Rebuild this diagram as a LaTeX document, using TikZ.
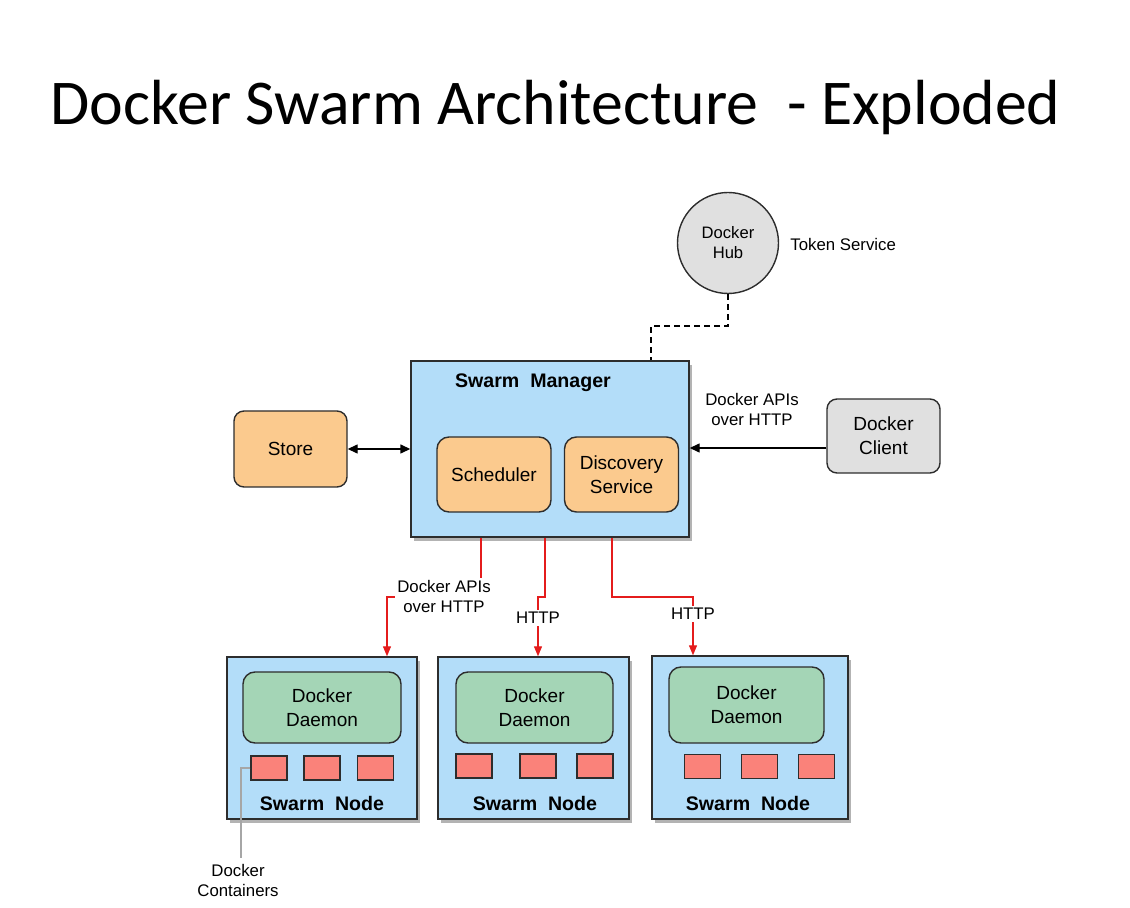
\documentclass[tikz,border=0pt]{standalone}
\usepackage{fontspec}
\setmainfont{Liberation Sans}
\newfontfamily\titlefont{Carlito}
\usetikzlibrary{arrows.meta,shadows}
\definecolor{mgrblue}{RGB}{179,221,249}
\definecolor{boxorange}{RGB}{251,202,142}
\definecolor{hubgray}{RGB}{224,224,224}
\definecolor{daemongreen}{RGB}{164,213,182}
\definecolor{boxred}{RGB}{250,130,122}
\definecolor{wirered}{RGB}{228,28,28}
\definecolor{edgegray}{RGB}{45,45,45}

\begin{document}
\begin{tikzpicture}[x=0.5pt,y=-0.5pt,
    box/.style={draw=edgegray,line width=0.7pt,inner sep=0pt,align=center,
                font=\fontsize{9.5}{12}\selectfont},
    shadowed/.style={drop shadow={shadow xshift=1.5pt,shadow yshift=-2pt,opacity=0.6}},
    small/.style={inner sep=1pt,align=center,font=\fontsize{8.4}{10}\selectfont},
    bold/.style={font=\bfseries\fontsize{9.8}{12}\selectfont},
    cont/.style={box,fill=boxred,minimum width=18pt,minimum height=12pt},
    wire/.style={wirered,line width=0.6pt,-{Triangle[length=5pt,width=4pt]}}]
    \useasboundingbox (0,0) rectangle (1130,908);

    \node[anchor=base west,inner sep=0pt,font=\titlefont\fontsize{31.9}{38}\selectfont]
        (title) at (50,125) {Docker Swarm Architecture\ \ - Exploded};

    % manager and its neighbours
    \node[box,circle,fill=hubgray,minimum size=50.5pt,font=\fontsize{8.3}{10}\selectfont]
        (hub) at (728,243) {Docker\\Hub};
    \node[small,anchor=west] (token) at (788,245) {Token Service};

    \node[box,shadowed,fill=mgrblue,minimum width=139pt,minimum height=88pt] (mgr) at (550,449) {};
    \node[bold] (mgrlabel) at (533,383) {Swarm\ \ Manager};
    \node[box,rounded corners=6pt,fill=boxorange,minimum width=57pt,minimum height=37.5pt]
        (sched) at (494,474.5) {Scheduler};
    \node[box,rounded corners=6pt,fill=boxorange,minimum width=57pt,minimum height=37.5pt]
        (disc) at (621.5,474.5) {Discovery\\Service};
    \node[box,rounded corners=5pt,fill=boxorange,minimum width=56.5pt,minimum height=38pt]
        (store) at (290.5,449) {Store};
    \node[box,rounded corners=5pt,fill=hubgray,minimum width=56.5pt,minimum height=37pt]
        (client) at (883.5,436) {Docker\\Client};
    \node[small] (apis) at (752,409) {Docker APIs\\over HTTP};

    \draw[line width=0.8pt,dash pattern=on 3pt off 2pt] (hub.south) |- (651,326) -- (651,0 |- mgr.north);
    \draw[line width=0.7pt,{Triangle[length=5pt,width=4.5pt]}-{Triangle[length=5pt,width=4.5pt]}]
        (store.east) -- (mgr.west);
    \draw[line width=0.7pt,-{Triangle[length=5pt,width=4.5pt]}] (client.west |- 0,448) -- (mgr.east |- 0,448);

    % swarm nodes
    \node[box,shadowed,fill=mgrblue,minimum width=95pt,minimum height=81pt] (node1) at (322,738) {};
    \node[box,shadowed,fill=mgrblue,minimum width=95.5pt,minimum height=81pt] (node2) at (533.5,738) {};
    \node[box,shadowed,fill=mgrblue,minimum width=98pt,minimum height=81.5pt] (node3) at (750,737.5) {};

    \node[box,rounded corners=6pt,fill=daemongreen,minimum width=79pt,minimum height=35.5pt]
        (daemon1) at (322,707.5) {Docker\\Daemon};
    \node[box,rounded corners=6pt,fill=daemongreen,minimum width=78.5pt,minimum height=35.5pt]
        (daemon2) at (534.5,707.5) {Docker\\Daemon};
    \node[box,rounded corners=6pt,fill=daemongreen,minimum width=77.5pt,minimum height=38pt]
        (daemon3) at (746.5,705) {Docker\\Daemon};

    \node[cont] (c11) at (269,768) {};
    \node[cont] (c12) at (322,768) {};
    \node[cont] (c13) at (375.5,768) {};
    \node[cont] (c21) at (474,766) {};
    \node[cont] (c22) at (538,766) {};
    \node[cont] (c23) at (595,766) {};
    \node[cont] (c31) at (702.5,766.5) {};
    \node[cont] (c32) at (759.5,766.5) {};
    \node[cont] (c33) at (816.5,766.5) {};

    \node[bold] (sn1) at (322,803) {Swarm\ \ Node};
    \node[bold] (sn2) at (535,803) {Swarm\ \ Node};
    \node[bold] (sn3) at (748,803) {Swarm\ \ Node};

    % red links down to the nodes
    \coordinate (m1) at (481,0 |- mgr.south);
    \coordinate (m2) at (545,0 |- mgr.south);
    \coordinate (m3) at (612,0 |- mgr.south);
    \draw[wire] (m1) |- (387,597) -- (387,0 |- node1.north);
    \draw[wire] (m2) |- (538,597) -- (538,0 |- node2.north);
    \draw[wire] (m3) |- (693,597) -- (693,0 |- node3.north);
    \node[small,fill=white] (api2) at (444,596) {Docker APIs\\over HTTP};
    \node[small,fill=white] (http2) at (538,618) {HTTP};
    \node[small,fill=white] (http3) at (693,614) {HTTP};

    \draw[gray!70,line width=0.6pt] (c11.west) -| (241,858);
    \node[small] (contlabel) at (238,880) {Docker\\Containers};
\end{tikzpicture}
\end{document}
